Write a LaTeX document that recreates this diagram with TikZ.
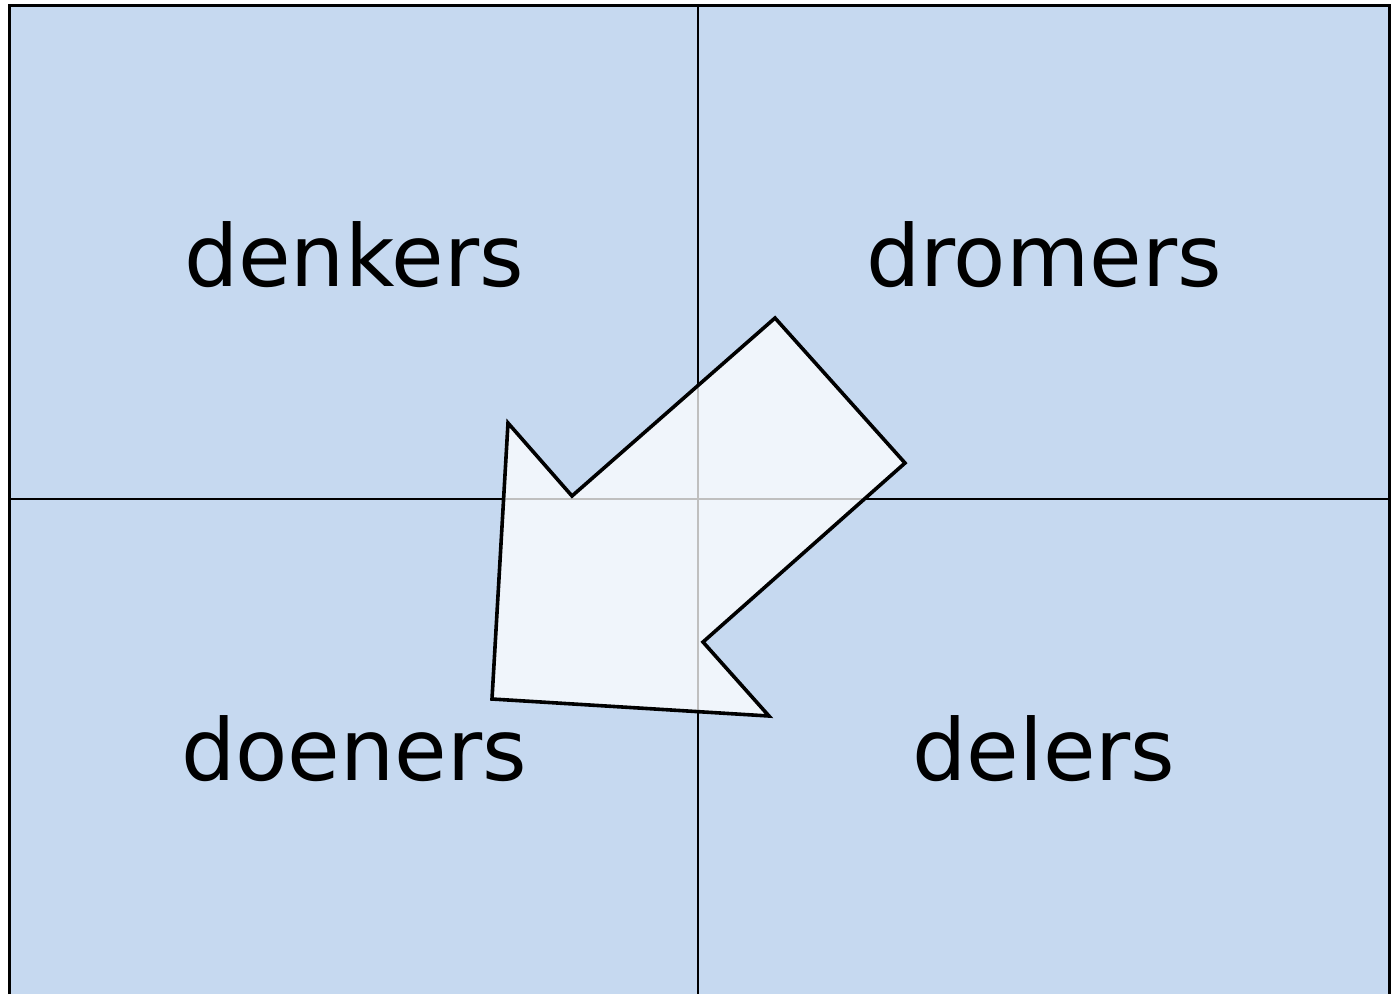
\documentclass[tikz,border=0pt]{standalone}
\usepackage{fontspec}
\setmainfont{DejaVu Sans}
\definecolor{quad}{HTML}{C6D9F0}
\begin{document}
\begin{tikzpicture}[x=1pt,y=-1pt,
  quadbox/.style={draw=black,line width=1.5pt,fill=quad},
  lbl/.style={font=\fontsize{85.5}{100}\selectfont,text=black,inner sep=0pt},
  bigarrow/.style={draw=black,line width=3.6pt,fill=white,fill opacity=0.75,line join=miter}]
\useasboundingbox (0,0) rectangle (1391,994);
\fill[quad] (9,5) rectangle (1389,994);
\draw[line width=2pt] (698,5) -- (698,994);
\draw[line width=2pt] (9,499) -- (1389,499);
\draw[line width=3pt] (9,994) -- (9,5) -- (1389,5) -- (1389,994);
\node[lbl] (denkers) at (354,255) {denkers};
\node[lbl] (dromers) at (1044,255) {dromers};
\node[lbl] (doeners) at (354,749) {doeners};
\node[lbl] (delers) at (1044,749) {delers};
\draw[bigarrow] (775,318) -- (905,463) -- (703,642) -- (769,716) -- (492,699) -- (508,423) -- (572,496) -- cycle;
\end{tikzpicture}
\end{document}
